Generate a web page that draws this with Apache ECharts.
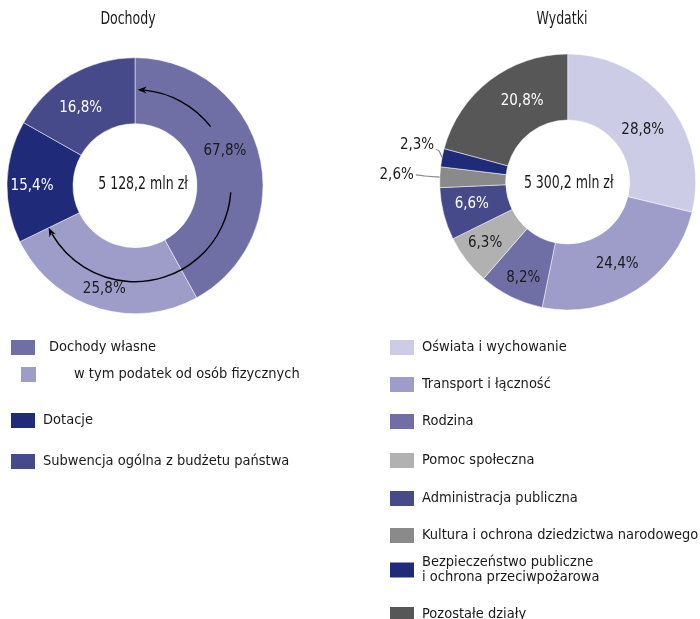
<!DOCTYPE html>
<html><head><meta charset="utf-8">
<script src="https://cdn.jsdelivr.net/npm/echarts@6/dist/echarts.min.js"></script>
<style>html,body{margin:0;padding:0;background:#fff}#c{width:700px;height:619px}</style>
</head><body><div id="c"></div>
<script>
// ---- DATA ----
const incomeCategories = ['Dochody własne', 'w tym podatek od osób fizycznych', 'Dotacje', 'Subwencja ogólna z budżetu państwa'];
const incomeShares = [67.8, 25.8, 15.4, 16.8]; // own income (total), of which PIT, grants, general subsidy
const incomeTotalLabel = '5 128,2 mln zł';
const incomeTitle = 'Dochody';

const expenseCategories = ['Oświata i wychowanie', 'Transport i łączność', 'Rodzina', 'Pomoc społeczna',
  'Administracja publiczna', 'Kultura i ochrona dziedzictwa narodowego',
  'Bezpieczeństwo publiczne\ni ochrona przeciwpożarowa', 'Pozostałe działy'];
const expenseShares = [28.8, 24.4, 8.2, 6.3, 6.6, 2.6, 2.3, 20.8];
const expenseTotalLabel = '5 300,2 mln zł';
const expenseTitle = 'Wydatki';

// ---- STYLE ----
const FONT = "'Liberation Sans Narrow', 'DejaVu Sans Condensed', 'Roboto', sans-serif";
const TXT = '#1a1a1a';
const incomeColors = ['#6f6fa6', '#9e9cc8', '#1f2b78', '#464a8b'];
const incomeLabelColors = [TXT, TXT, '#fff', '#fff'];
const expenseColors = ['#cccce6', '#9e9cc8', '#6f6fa6', '#b1b1b1', '#464a8b', '#8a8a8a', '#1f2b78', '#575757'];
const expenseLabelColors = [TXT, TXT, TXT, TXT, '#fff', TXT, TXT, '#fff'];
const incomeNudge = [[-5, -10], [-1, 10], [-5, 3], [-5, 7]];
const expenseNudge = [[-2, 9], [-3, -1], [-1, 8], [-5, 1], [-1, -2], [-7, -2], [11, -11], [14, -3]];
const C1 = [135, 185.7], C2 = [567.7, 182], R0 = 62, R1 = 128;
const LABEL_SIZE = 15, LEGEND_SIZE = 14.5, BIG_SIZE = 17, SQUEEZE = 0.82;

const fmt = v => v.toFixed(1).replace('.', ',') + '%';

const incomeData = incomeCategories.map((name, i) => ({
  name,
  value: i === 0 ? +(incomeShares[0] - incomeShares[1]).toFixed(1) : incomeShares[i],
  itemStyle: { color: incomeColors[i] },
  label: { color: incomeLabelColors[i], formatter: fmt(incomeShares[i]) }
}));

const smallIdx = [5, 6];
const expenseData = expenseCategories.map((name, i) => {
  const d = {
    name, value: expenseShares[i],
    itemStyle: { color: expenseColors[i] },
    label: { color: expenseLabelColors[i], formatter: fmt(expenseShares[i]) }
  };
  if (smallIdx.includes(i)) {
    d.label.position = 'outside';
    d.label.color = TXT;
    d.labelLine = { show: true, length: 6, length2: 8, smooth: 0.3, lineStyle: { color: '#8a8a8a', width: 1.2 } };
  }
  return d;
});

const pieBase = {
  type: 'pie', radius: [R0, R1], startAngle: 90, clockwise: true,
  avoidLabelOverlap: false, silent: true,
  itemStyle: { borderColor: '#fff', borderWidth: 0.5 },
  label: { show: true, position: 'inside', fontSize: LABEL_SIZE, fontFamily: FONT },
  labelLine: { show: false },
  emphasis: { disabled: true }
};

// arrows around own income share
const ownDeg = incomeShares[0] / 100 * 360;
const AR = 96;
function pt(c, r, deg) { const a = (deg - 90) * Math.PI / 180; return [c[0] + r * Math.cos(a), c[1] + r * Math.sin(a)]; }
function arrowHead(c, r, deg, dirSign) {
  const a = deg * Math.PI / 180;
  const T = pt(c, r, deg);
  const d = [dirSign * Math.cos(a), dirSign * Math.sin(a)];
  const n = [-d[1], d[0]];
  const L = 9, W = 3.5;
  const B = [T[0] - d[0] * L, T[1] - d[1] * L];
  const N = [T[0] - d[0] * L * 0.7, T[1] - d[1] * L * 0.7];
  return { type: 'polygon', shape: { points: [T, [B[0] + n[0] * W, B[1] + n[1] * W], N, [B[0] - n[0] * W, B[1] - n[1] * W]] }, style: { fill: '#000' }, z: 100 };
}
const toRad = deg => (deg - 90) * Math.PI / 180;
const tipGap = 4;
const labelGapStart = 52, labelGapEnd = 94;
const bigText = (x, y, text) => ({ type: 'text', x, y, scaleX: SQUEEZE, z: 100,
  style: { text, fontSize: BIG_SIZE, fontFamily: FONT, fill: TXT, align: 'center', verticalAlign: 'middle' } });
const graphics = [
  { type: 'arc', shape: { cx: C1[0], cy: C1[1], r: AR, startAngle: toRad(1.5 + tipGap), endAngle: toRad(labelGapStart), clockwise: true }, style: { stroke: '#000', fill: null, lineWidth: 1.4 }, z: 100 },
  arrowHead(C1, AR, 1.5, -1),
  { type: 'arc', shape: { cx: C1[0], cy: C1[1], r: AR, startAngle: toRad(labelGapEnd), endAngle: toRad(ownDeg - tipGap), clockwise: true }, style: { stroke: '#000', fill: null, lineWidth: 1.4 }, z: 100 },
  arrowHead(C1, AR, ownDeg, 1),
  bigText(C1[0] + 8, C1[1] - 1, incomeTotalLabel),
  bigText(C2[0] + 1, C2[1] + 2, expenseTotalLabel),
  bigText(128, 20, incomeTitle),
  bigText(562, 20, expenseTitle)
];

// legends
const incomeLegendLayout = [
  { left: 9, top: 338, w: 26, h: 17, pad: 8 },
  { left: 19, top: 365, w: 17, h: 17, pad: 32 },
  { left: 9, top: 411, w: 26, h: 17, pad: 2 },
  { left: 9, top: 452, w: 26, h: 17, pad: 2 }
];
const expenseLegendTops = [338, 375, 412, 451, 489, 526, 555, 605];
const legends = [];
incomeCategories.forEach((name, i) => {
  const L = incomeLegendLayout[i];
  legends.push({ left: L.left, top: L.top, padding: 0, itemWidth: L.w, itemHeight: L.h, icon: 'rect',
    selectedMode: false, data: [name],
    textStyle: { fontSize: LEGEND_SIZE, fontFamily: FONT, color: TXT, lineHeight: 17, padding: [0, 0, 0, L.pad] } });
});
expenseCategories.forEach((name, i) => {
  legends.push({ left: 388, top: expenseLegendTops[i], padding: 0, itemWidth: 26, itemHeight: 17, icon: 'rect',
    selectedMode: false, data: [name],
    textStyle: { fontSize: LEGEND_SIZE, fontFamily: FONT, color: TXT, lineHeight: i === 6 ? 15 : 17, padding: [0, 0, 0, 2] } });
});

// label-line routing for the two small outside labels
function expenseLabelLayout(p) {
  const [dx, dy] = expenseNudge[p.dataIndex];
  const out = { dx, dy };
  if (smallIdx.includes(p.dataIndex) && p.labelLinePoints) {
    const start = p.labelLinePoints[0];
    const r = p.labelRect;
    const right = r.x + r.width + dx + 2;
    const cy = r.y + r.height / 2 + dy;
    if (p.dataIndex === 6) {
      out.labelLinePoints = [start, [right + 3, cy + 5], [right, cy + 4]];
    } else {
      out.labelLinePoints = [start, [right + 8, cy + 1], [right, cy]];
    }
  }
  return out;
}

const chart = echarts.init(document.getElementById('c'), null, { renderer: 'canvas' });
chart.setOption({
  animation: false,
  legend: legends,
  graphic: graphics,
  series: [
    Object.assign({}, pieBase, {
      name: 'Dochody', center: C1, data: incomeData,
      labelLayout: p => ({ dx: incomeNudge[p.dataIndex][0], dy: incomeNudge[p.dataIndex][1] })
    }),
    Object.assign({}, pieBase, {
      name: 'Wydatki', center: C2, data: expenseData,
      labelLayout: expenseLabelLayout
    })
  ]
});
</script>
</body></html>
